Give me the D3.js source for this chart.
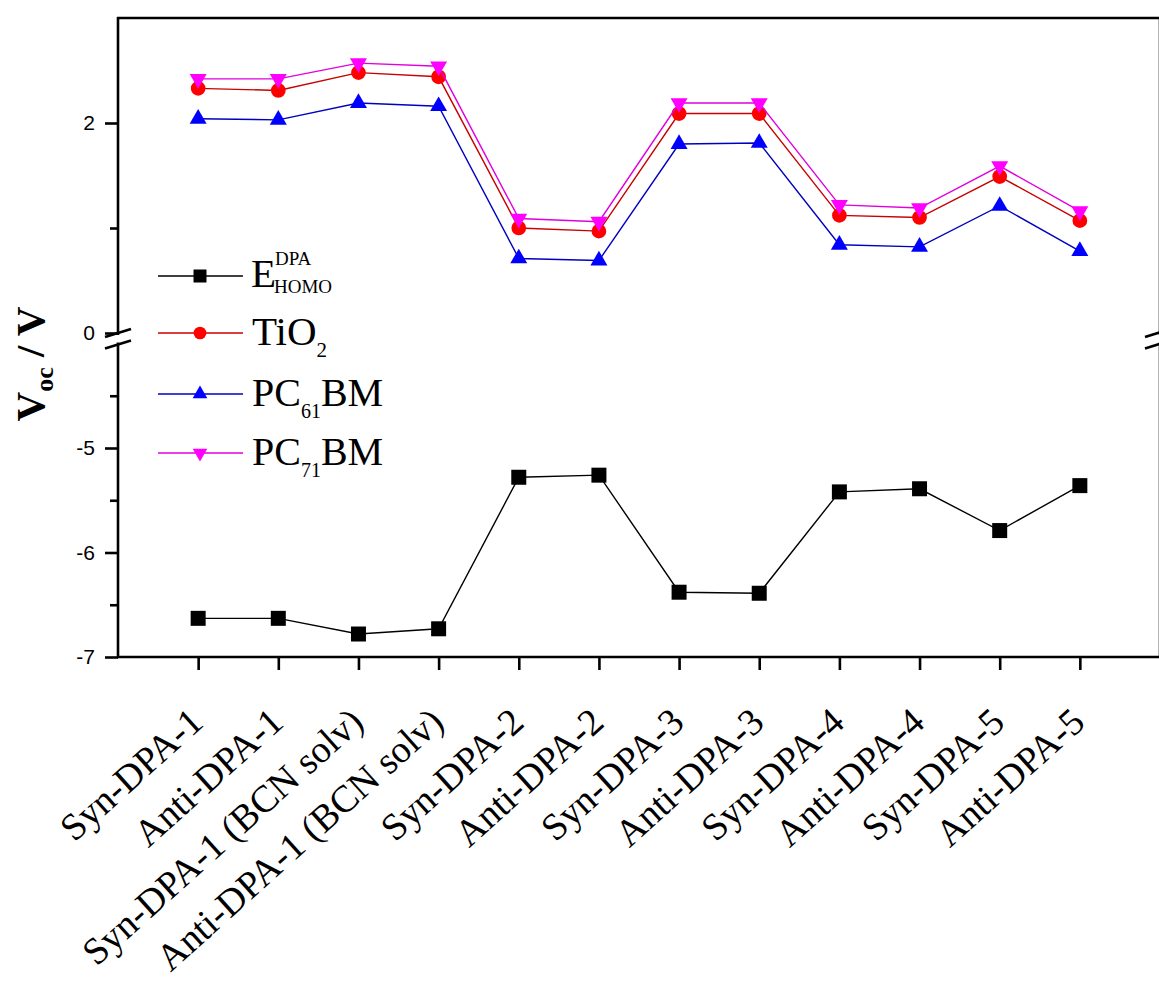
<!DOCTYPE html>
<html>
<head>
<meta charset="utf-8">
<script src="https://cdn.jsdelivr.net/npm/d3@7"></script>
<style>
  html, body { margin: 0; padding: 0; background: #fff; }
  svg { display: block; }
</style>
</head>
<body>
<svg id="chart" width="1159" height="982"></svg>
<script>
// ---------------- data ----------------
const categories = [
  "Syn-DPA-1", "Anti-DPA-1", "Syn-DPA-1 (BCN solv)", "Anti-DPA-1 (BCN solv)",
  "Syn-DPA-2", "Anti-DPA-2", "Syn-DPA-3", "Anti-DPA-3",
  "Syn-DPA-4", "Anti-DPA-4", "Syn-DPA-5", "Anti-DPA-5"
];
const homoDPA = [-6.63, -6.63, -6.78, -6.73, -5.28, -5.26, -6.38, -6.39, -5.42, -5.39, -5.79, -5.36];
const tio2    = [2.33, 2.31, 2.48, 2.44, 1.00, 0.97, 2.09, 2.09, 1.12, 1.10, 1.49, 1.07];
const pc61bm  = [2.04, 2.03, 2.19, 2.16, 0.71, 0.69, 1.80, 1.81, 0.84, 0.82, 1.21, 0.78];
const pc71bm  = [2.42, 2.42, 2.57, 2.54, 1.09, 1.06, 2.19, 2.19, 1.22, 1.19, 1.59, 1.16];
const upperTicks = [0, 2];
const upperMinor = [1];
const lowerTicks = [-7, -6, -5];
const lowerMinor = [-6.5, -5.5, -4.5];

(function () {
// ---------------- layout ----------------
const svg = d3.select("#chart");
const pLeft = 118, pRight = 1160, pTop = 18, pBottom = 657;
const breakTop = 333, breakBot = 343.5;

const x = d3.scaleLinear().domain([-1, categories.length]).range([pLeft, pRight]);
const yUp = d3.scaleLinear().domain([0, 3]).range([breakTop, pTop]);
const yLo = d3.scaleLinear().domain([-7, -4]).range([pBottom, breakBot]);

const serif = "'Liberation Serif', 'Times New Roman', serif";
const sans = "'Liberation Sans', Arial, sans-serif";
const AW = 2.6;

// ---------------- axes ----------------
function styleAxis(g) {
  g.selectAll("path.domain").remove();
  g.selectAll(".tick line").attr("stroke", "#000").attr("stroke-width", AW);
  g.selectAll(".tick text").attr("font-family", sans).attr("font-size", 21).attr("fill", "#000");
}
const fmt = d => String(d);
svg.append("g").attr("transform", `translate(${pLeft},0)`)
  .call(d3.axisLeft(yUp).tickValues(upperTicks).tickSize(13).tickPadding(10).tickFormat(fmt))
  .call(styleAxis);
svg.append("g").attr("transform", `translate(${pLeft},0)`)
  .call(d3.axisLeft(yUp).tickValues(upperMinor).tickSize(8).tickFormat(""))
  .call(styleAxis);
svg.append("g").attr("transform", `translate(${pLeft},0)`)
  .call(d3.axisLeft(yLo).tickValues(lowerTicks).tickSize(13).tickPadding(10).tickFormat(fmt))
  .call(styleAxis);
svg.append("g").attr("transform", `translate(${pLeft},0)`)
  .call(d3.axisLeft(yLo).tickValues(lowerMinor).tickSize(8).tickFormat(""))
  .call(styleAxis);

svg.append("g").attr("transform", `translate(0,${pBottom})`)
  .call(d3.axisBottom(x).tickValues(d3.range(categories.length)).tickSize(13).tickFormat(""))
  .call(styleAxis);

// axis lines
const lines = svg.append("g").attr("stroke", "#000").attr("stroke-width", AW).attr("fill", "none");
lines.append("line").attr("x1", pLeft).attr("x2", pLeft).attr("y1", pTop - 1).attr("y2", breakTop + 2);
lines.append("line").attr("x1", pLeft).attr("x2", pLeft).attr("y1", breakBot - 1).attr("y2", pBottom + 1);
lines.append("line").attr("x1", pLeft - 1).attr("x2", pRight + 2).attr("y1", pTop).attr("y2", pTop);
lines.append("line").attr("x1", pLeft - 1).attr("x2", pRight + 2).attr("y1", pBottom).attr("y2", pBottom);
lines.append("line").attr("x1", pRight).attr("x2", pRight).attr("y1", pTop).attr("y2", pBottom);

// break marks
function breakMark(cx) {
  const g = svg.append("g").attr("stroke", "#000").attr("stroke-width", 2.6);
  g.append("line").attr("x1", cx - 13).attr("y1", breakTop + 4).attr("x2", cx + 13).attr("y2", breakTop - 4);
  g.append("line").attr("x1", cx - 13).attr("y1", breakBot + 5).attr("x2", cx + 13).attr("y2", breakBot - 3);
}
svg.append("rect").attr("x", pRight - 3).attr("y", breakTop + 2).attr("width", 6).attr("height", breakBot - breakTop - 3).attr("fill", "#fff");
breakMark(pLeft);
breakMark(pRight - 2);

// x tick labels
svg.append("g").selectAll("text").data(categories).join("text")
  .attr("transform", (d, i) => `translate(${x(i) + 7},${pBottom + 68}) rotate(-42)`)
  .attr("text-anchor", "end")
  .attr("font-family", serif).attr("font-size", 38).attr("fill", "#000")
  .text(d => d);

// y title
const title = svg.append("text")
  .attr("transform", `translate(44,364) rotate(-90)`)
  .attr("text-anchor", "middle")
  .attr("font-family", serif).attr("font-weight", "bold").attr("font-size", 41).attr("fill", "#000");
title.append("tspan").text("V");
title.append("tspan").attr("font-size", 26).attr("dy", 9).text("oc");
title.append("tspan").attr("dy", -9).text(" / V");

// ---------------- series ----------------
const series = [
  { values: homoDPA, y: yLo, color: "#000", line: "#000", symbol: d3.symbolSquare, size: 225, rot: 0 },
  { values: tio2, y: yUp, color: "#ff0000", line: "#c80000", symbol: d3.symbolCircle, size: 170, rot: 0 },
  { values: pc61bm, y: yUp, color: "#0000ff", line: "#0000c0", symbol: d3.symbolTriangle, size: 125, rot: 0 },
  { values: pc71bm, y: yUp, color: "#ff00ff", line: "#e000e0", symbol: d3.symbolTriangle, size: 125, rot: 180 }
];

series.forEach(s => {
  const g = svg.append("g");
  const lineGen = d3.line().x((d, i) => x(i)).y(d => s.y(d));
  g.append("path").attr("d", lineGen(s.values)).attr("fill", "none")
    .attr("stroke", s.line).attr("stroke-width", 1.4);
  g.selectAll("path.pt").data(s.values).join("path").attr("class", "pt")
    .attr("transform", (d, i) => `translate(${x(i)},${s.y(d)}) rotate(${s.rot})`)
    .attr("d", d3.symbol().type(s.symbol).size(s.size)())
    .attr("fill", s.color);
});

// ---------------- legend ----------------
const legendRows = [
  { s: series[0], y: 276 },
  { s: series[1], y: 333 },
  { s: series[2], y: 394 },
  { s: series[3], y: 453 }
];
const lg = svg.append("g");
legendRows.forEach(r => {
  lg.append("line").attr("x1", 158).attr("x2", 243).attr("y1", r.y).attr("y2", r.y)
    .attr("stroke", r.s.line).attr("stroke-width", 1.6);
  lg.append("path").attr("transform", `translate(200,${r.y}) rotate(${r.s.rot})`)
    .attr("d", d3.symbol().type(r.s.symbol).size(r.s.size * 0.75)())
    .attr("fill", r.s.color);
});
lg.append("text").attr("x", 251).attr("y", 287).attr("font-family", serif).attr("font-size", 41).text("E");
lg.append("text").attr("x", 275).attr("y", 265).attr("font-family", serif).attr("font-size", 19).text("DPA");
lg.append("text").attr("x", 274).attr("y", 293).attr("font-family", serif).attr("font-size", 19).text("HOMO");
const t2 = lg.append("text").attr("x", 252).attr("y", 345).attr("font-family", serif).attr("font-size", 41);
t2.append("tspan").text("TiO");
t2.append("tspan").attr("font-size", 21).attr("dy", 12).text("2");
const t3 = lg.append("text").attr("x", 252).attr("y", 406).attr("font-family", serif).attr("font-size", 40);
t3.append("tspan").text("PC");
t3.append("tspan").attr("font-size", 20).attr("dy", 12).text("61");
t3.append("tspan").attr("dy", -12).text("BM");
const t4 = lg.append("text").attr("x", 252).attr("y", 465).attr("font-family", serif).attr("font-size", 40);
t4.append("tspan").text("PC");
t4.append("tspan").attr("font-size", 20).attr("dy", 12).text("71");
t4.append("tspan").attr("dy", -12).text("BM");
})();
</script>
</body>
</html>
